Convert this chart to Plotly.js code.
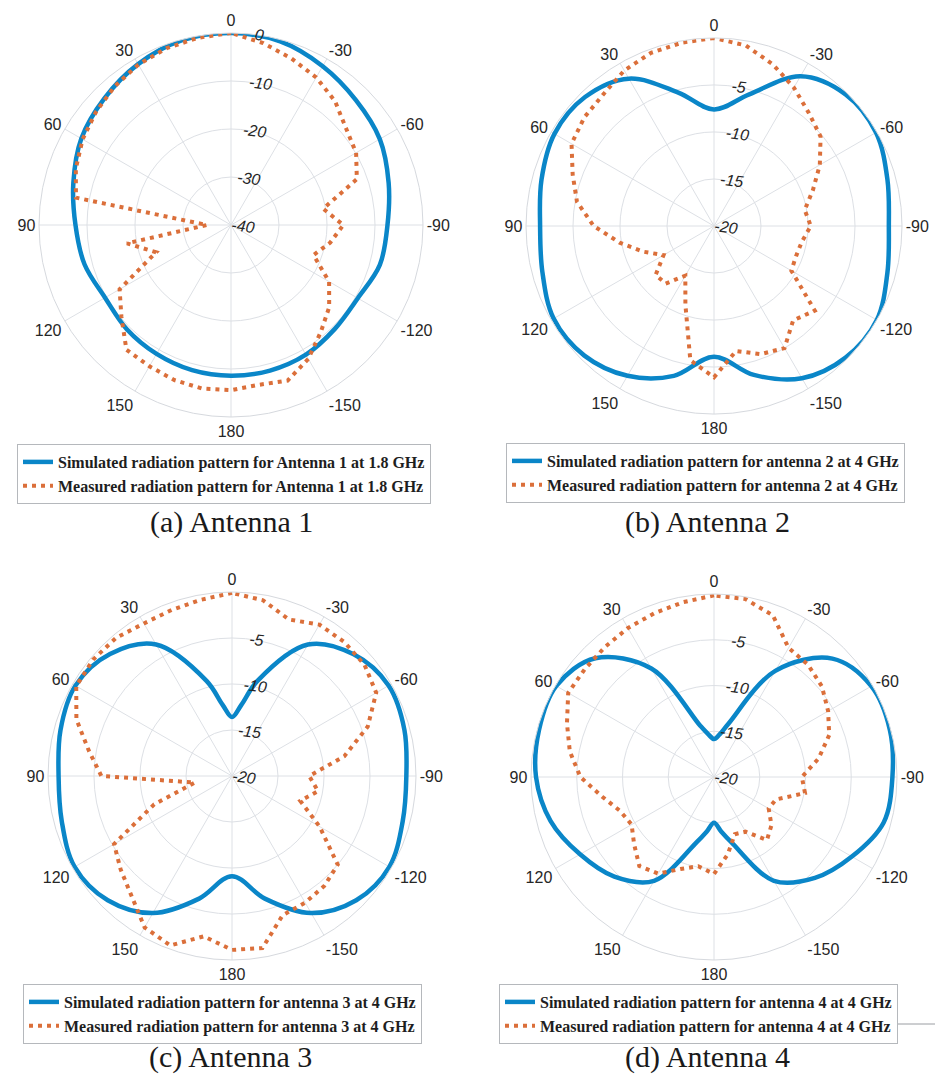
<!DOCTYPE html>
<html><head><meta charset="utf-8">
<script src="https://cdn.plot.ly/plotly-3.0.1.min.js"></script>
<style>html,body{margin:0;padding:0;background:#fff;} #chart{width:935px;height:1080px;}</style>
</head><body><div id="chart"></div>
<script>
// ---- angular tick labels (degrees, 0 at top, counter-clockwise) ----
const angleTicks  = [0,30,60,90,120,150,180,210,240,270,300,330];
const angleLabels = ['0','30','60','90','120','150','180','-150','-120','-90','-60','-30'];

// ---- radial tick labels ----
const rTicksA  = [-40,-30,-20,-10,0];
const rLabelsA = ['-40','-30','-20','-10','0'];
const rTicksB  = [-20,-15,-10,-5,0];
const rLabelsB = ['-20','-15','-10','-5',''];

// ---- (a) Antenna 1 at 1.8 GHz ----
const simThetaA = [0,15,30,45,60,75,90,105,120,135,150,165,180,195,210,225,240,255,270,285,300,315,330,345];
const simA      = [0,-0.2,-1.3,-2.7,-4.0,-6.0,-7.6,-8.4,-9.7,-9.3,-9.0,-8.7,-8.6,-8.6,-8.8,-9.4,-9.5,-7.9,-7.4,-6.0,-4.2,-3.2,-1.8,-0.4];
const measThetaA = [0,10,20,30,40,50,60,70,80,90,100,110,120,130,140,150,160,170,180,190,200,210,220,230,240,250,260,270,280,290,300,310,320,330,340,350];
const measA      = [0,-0.4,-0.8,-1.4,-2.3,-3.3,-4.3,-5.6,-7.2,-35,-18,-23.4,-13.2,-10.2,-6.1,-6.0,-5.6,-5.4,-5.6,-6.2,-5.5,-7.8,-10.9,-13.3,-16.4,-21.7,-19,-16.6,-20.5,-12.1,-9.9,-8.7,-6.3,-4.5,-3.1,-1.5];

// ---- (b) Antenna 2 at 4 GHz ----
const simThetaB = [0,15,30,45,60,75,90,105,120,135,150,165,180,195,210,225,240,255,270,285,300,315,330,345];
const simB      = [-7.6,-5.3,-1.9,-0.6,-0.4,-1.0,-1.5,-1.1,-0.3,-0.5,-1.6,-3.5,-6.1,-3.6,-1.3,-0.2,0,-0.9,-1.4,-0.9,-0.1,-0.2,-1.6,-5.5];
const measThetaB = [0,10,20,30,40,50,60,70,80,90,100,110,120,130,140,150,160,170,180,190,200,210,220,230,240,250,260,270,280,290,300,310,320,330,340,350];
const measB      = [0,-0.2,-0.4,-0.9,-1.7,-2.0,-2.5,-4.0,-5.2,-7.2,-9.8,-12.0,-13.8,-11.9,-12.0,-13.9,-11.1,-5.5,-3.9,-6.5,-5.5,-5.0,-6.9,-6.0,-10.5,-10.7,-10.5,-9.7,-10.2,-8.8,-7.0,-5.2,-4.3,-3.0,-1.7,-0.5];

// ---- (c) Antenna 3 at 4 GHz ----
const simThetaC = [0,7.5,15,30,45,60,75,90,105,120,135,150,165,180,195,210,225,240,255,270,285,300,315,330,345,352.5];
const simC      = [-13.6,-12.2,-9.3,-3.5,-1.25,-0.35,-0.7,-1.15,-0.85,-0.25,-0.9,-2.8,-6.2,-9.1,-6.2,-2.8,-0.9,-0.25,-0.8,-1.05,-0.6,-0.35,-1.3,-3.5,-9.3,-12.2];
const measThetaC = [0,10,20,30,40,50,60,70,80,90,100,110,120,130,140,150,160,170,180,190,200,210,220,230,240,250,260,270,280,290,300,310,320,330,340,350];
const measC      = [-0.1,-0.55,-0.8,-0.85,-0.4,-0.3,-0.45,-2.0,-4.2,-5.8,-15.9,-11.0,-5.2,-4.2,-3.0,-1.0,-0.4,-2.3,-1.1,-1.0,-3.9,-4.1,-4.4,-5.0,-9.0,-12.1,-10.5,-11.6,-7.6,-4.3,-1.9,-1.2,-1.0,-1.0,-1.9,-0.6];

// ---- (d) Antenna 4 at 4 GHz ----
const simThetaD = [0,7.5,15,30,45,60,75,90,105,120,135,150,165,172.5,180,187.5,195,210,225,240,255,270,285,300,315,330,345,352.5];
const simD      = [-15.85,-15.3,-14.2,-6.3,-1.65,-0.1,-0.2,-0.55,-1.5,-3.1,-4.6,-6.9,-12.6,-14.0,-15.0,-14.0,-12.6,-6.9,-4.4,-2.6,-0.8,-0.5,-0.1,-0.15,-1.7,-6.6,-14.0,-15.3];
const measThetaD = [0,10,20,30,40,50,60,70,80,90,100,110,120,130,140,150,160,170,180,190,200,210,220,230,240,250,260,270,280,290,300,310,320,330,340,350];
const measD      = [-0.15,-0.6,-0.95,-1.2,-1.45,-1.6,-1.6,-2.9,-4.0,-5.4,-7.6,-9.1,-9.6,-8.6,-7.3,-7.8,-9.3,-10.1,-9.4,-11.4,-13.35,-13.1,-11.0,-11.8,-13.1,-12.8,-9.9,-10.4,-8.4,-6.6,-5.6,-4.6,-4.0,-3.7,-1.2,-0.25];

// ---- legend names & captions ----
const simNames  = ['Simulated radiation pattern for Antenna 1 at 1.8 GHz','Simulated radiation pattern for antenna 2 at 4 GHz','Simulated radiation pattern for antenna 3 at 4 GHz','Simulated radiation pattern for antenna 4 at 4 GHz'];
const measNames = ['Measured radiation pattern for Antenna 1 at 1.8 GHz','Measured radiation pattern for antenna 2 at 4 GHz','Measured radiation pattern for antenna 3 at 4 GHz','Measured radiation pattern for antenna 4 at 4 GHz'];
const captions  = ['(a) Antenna 1','(b) Antenna 2','(c) Antenna 3','(d) Antenna 4'];

const BLUE = '#0a86c8', ORANGE = '#db6f3a';
const close = (a) => a.concat([a[0]]);
const closeT = (a) => a.concat([a[0] + 360]);

const sims  = [[simThetaA,simA],[simThetaB,simB],[simThetaC,simC],[simThetaD,simD]];
const meass = [[measThetaA,measA],[measThetaB,measB],[measThetaC,measC],[measThetaD,measD]];
const polarIds = ['polar','polar2','polar3','polar4'];
const legendIds = ['legend','legend2','legend3','legend4'];

const traces = [];
for (let i = 0; i < 4; i++) {
  traces.push({type:'scatterpolar', mode:'lines', subplot:polarIds[i], legend:legendIds[i],
    theta: closeT(sims[i][0]), r: close(sims[i][1]), name: simNames[i],
    line:{color:BLUE, width:4.5, shape:'spline', smoothing:1}});
  traces.push({type:'scatterpolar', mode:'lines', subplot:polarIds[i], legend:legendIds[i],
    theta: closeT(meass[i][0]), r: close(meass[i][1]), name: measNames[i],
    line:{color:ORANGE, width:4, dash:'4px,5px'}});
}

const W = 935, H = 1080;
function dom(cx, cy, R) {
  return {x:[(cx-R)/W, (cx+R)/W], y:[1-(cy+R)/H, 1-(cy-R)/H]};
}
function polarCfg(d, range, tv, tt) {
  return {
    domain: d, bgcolor:'white',
    angularaxis:{rotation:90, direction:'counterclockwise', tickmode:'array',
      tickvals:angleTicks, ticktext:angleLabels, showgrid:true, gridcolor:'#dde0e5', gridwidth:1,
      showline:true, linecolor:'#d6d9de', linewidth:1, ticks:'',
      tickfont:{family:'Liberation Sans, Arial, sans-serif', size:16, color:'#262626'}},
    radialaxis:{range:range, tickmode:'array', tickvals:tv, ticktext:tt, angle:83, tickangle:90,
      showline:false, ticks:'', gridcolor:'#dde0e5', gridwidth:1,
      tickfont:{family:'Liberation Sans, Arial, sans-serif', size:16, color:'#262626', style:'italic'}}
  };
}
function legendCfg(x, y) {
  return {x:x/W, y:1-y/H, xanchor:'left', yanchor:'top', bgcolor:'white',
    bordercolor:'#b5b8bc', borderwidth:1, tracegroupgap:0, itemwidth:30,
    font:{family:'Liberation Serif, Times New Roman, serif', size:16, color:'#1e1e1e', weight:'bold'}};
}

const layout = {
  width:W, height:H, margin:{l:0,r:0,t:0,b:0}, paper_bgcolor:'white', showlegend:true,
  polar:  polarCfg(dom(231,225,192), [-40,0], rTicksA, rLabelsA),
  polar2: polarCfg(dom(714,226,188), [-20,0], rTicksB, rLabelsB),
  polar3: polarCfg(dom(232,776,184), [-20,0], rTicksB, rLabelsB),
  polar4: polarCfg(dom(714,777,183), [-20,0], rTicksB, rLabelsB),
  legend:  legendCfg(17,444),
  legend2: legendCfg(506,443),
  legend3: legendCfg(23,984),
  legend4: legendCfg(499,984),
  shapes:[{type:'line', xref:'paper', yref:'paper', x0:499/W, x1:1, y0:1-1024/H, y1:1-1024/H, line:{color:'#9a9da2', width:1}}],
  annotations: [
    [231,522],[707,522],[230,1057],[707,1057]
  ].map((p,i)=>({text:captions[i], x:p[0]/W, y:1-p[1]/H, xref:'paper', yref:'paper', showarrow:false,
     xanchor:'center', yanchor:'middle', font:{family:'Liberation Serif, Times New Roman, serif', size:30, color:'#1a1a1a'}}))
};

Plotly.newPlot('chart', traces, layout, {displayModeBar:false, staticPlot:true});
</script>
</body></html>
